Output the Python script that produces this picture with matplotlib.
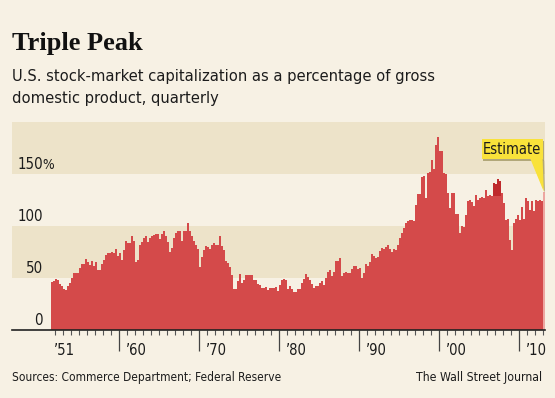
import numpy as np
import matplotlib
matplotlib.use("Agg")
import matplotlib.pyplot as plt
from matplotlib import font_manager
from matplotlib.font_manager import FontProperties
from matplotlib.patches import Rectangle, Polygon

# market cap as % of GDP, quarterly, first bar 1951 Q3, last bar is the estimate
cap_pct = [
    46.5, 47, 49, 48, 44, 42, 39, 38, 42, 45.5, 50, 55, 55, 55, 60, 63.5,
    63.5, 68, 65, 62.5, 66, 62, 65.5, 58, 58, 63, 67, 72, 74, 74, 75, 74,
    77.5, 71, 74, 67, 77, 86, 84, 84, 90, 85.5, 65, 67, 81.5, 84.5, 88, 90,
    85, 88, 90, 91, 92, 92, 87.5, 92, 95, 90, 85, 75, 79, 88,
    93.5, 95, 95, 85.5, 95, 95, 103, 95, 90, 86, 82, 77.5, 61, 70, 77, 81,
    80, 77.5, 82, 84, 82, 82, 90, 81, 77, 66, 64, 61, 52.5, 39, 39, 47.5,
    54, 45.5, 48, 53, 53, 53, 52.5, 48.5, 48, 44, 43, 40, 40, 41.5, 38.5, 40,
    40.5, 40.5, 41.5, 37.5, 43, 48, 49.5, 48, 39, 42, 39, 37, 37, 39,
    39, 45.5, 49, 53.5, 51, 48, 44, 40.5, 42.5, 42.5, 45, 47, 43.5, 50, 55.5, 57.5,
    52, 56, 66, 66, 69, 52, 54.5, 56, 54.5, 55, 59, 62, 62, 59, 60, 50,
    55, 63.5, 62, 65, 73, 71, 69, 70, 76, 79, 78, 80, 81.5, 77.5, 75, 77.5,
    77, 81.5, 88, 93.5, 98.5, 102.5, 104.5, 106, 106, 105, 120, 131, 131, 147,
    148, 126.5, 150.5, 152, 163.5, 154.5, 178, 186, 172, 172, 151, 150, 132, 117, 132, 132,
    112, 112, 93.5, 100, 99.5, 110.5, 124, 125, 123.5, 119, 130, 125, 127, 128, 126.5, 134.5,
    129, 130, 129, 141, 140.5, 145, 143.5, 131.5, 122, 106, 107, 86.5, 77, 102.5, 106.5, 110.5,
    106, 118, 107, 126.5, 124, 115.5, 124, 114, 125, 124, 125, 124, 133,
]
first_quarter = 1951.5
y_ticks = [0, 50, 100, 150]
decades = [1951, 1960, 1970, 1980, 1990, 2000, 2010]
decade_labels = ["\u201951", "\u201960", "\u201970", "\u201980", "\u201990", "\u201900", "\u201910"]

# condensed sans if there is one, else Roboto
cond = FontProperties(family="DejaVu Sans", stretch="condensed")
if "Condensed" in font_manager.findfont(cond):
    SANS = dict(family="DejaVu Sans", stretch="condensed")
    k = 1.0
else:
    SANS = dict(family="Roboto")
    k = 0.93
serif = "Liberation Serif"

BG = "#f7f1e4"
BAND = "#ede3c9"
RED = "#d44a4a"
INK = "#1c1c1c"

fig = plt.figure(figsize=(5.55, 3.98), dpi=100, facecolor=BG)
W, H = 555, 398
ax = fig.add_axes([12 / W, 68 / H, 533 / W, 208 / H], facecolor=BG)
ax.set_xlim(1946.625, 2013.25)
ax.set_ylim(0, 200)

ax.axhspan(50, 100, color=BAND, lw=0, zorder=0)
ax.axhspan(150, 200, color=BAND, lw=0, zorder=0)

vals = np.array(cap_pct)
q = first_quarter + 0.25 * np.arange(len(vals))
colors = [RED] * len(vals)
colors[-1] = "#eda6a0"
ax.bar(q, vals, width=0.19, align="edge", color=colors, lw=0, zorder=2)

# darker tops of the 2007 peak
pk = slice(221, 225)
ax.bar(q[pk], vals[pk] - 129, bottom=129, width=0.19, align="edge",
       color="#bf2a2c", lw=0, zorder=3)

# y labels
for v in y_ticks:
    ax.text(1950.5, v + 4.8, str(v), ha="right", va="baseline", fontsize=10.8 * k,
            color=INK, zorder=4, **SANS)
ax.text(1950.45, 150 + 4.8, "%", ha="left", va="baseline", fontsize=9.8 * k,
        color=INK, zorder=4, **SANS)

# x axis
for s in ["top", "right", "left"]:
    ax.spines[s].set_visible(False)
ax.spines["bottom"].set_linewidth(1.2)
ax.spines["bottom"].set_color("#222222")
ax.set_yticks([])
major = [d for d in decades if d % 10 == 0]
ax.set_xticks(major)
ax.set_xticklabels([])
ax.set_xticks([y for y in range(1952, 2014) if y % 10 != 0], minor=True)
ax.tick_params(axis="x", which="major", length=15, width=0.9, color="#444444", direction="out")
ax.tick_params(axis="x", which="minor", length=3.6, width=0.8, color="#555555", direction="out")
for d, lab in zip(decades, decade_labels):
    ax.text(d + 0.9, -24, lab, ha="left", va="baseline", fontsize=10.6 * k,
            color=INK, clip_on=False, **SANS)

# estimate callout
tip_x = q[-1] + 0.1
tip_y = vals[-1]
bx0, bx1, by0, by1 = 2005.35, 2012.95, 164.4, 183.7
ax.add_patch(Rectangle((bx0 + 0.2, by0 - 1.6), bx1 - bx0, by1 - by0, color="#8a7f45",
                       alpha=0.6, lw=0, zorder=5, clip_on=False))
ax.add_patch(Polygon([(2011.4 + 0.2, by0 - 1.6), (bx1 + 0.2, by0 - 1.6), (tip_x + 0.15, tip_y - 1)],
                     color="#8a7f45", alpha=0.6, lw=0, zorder=5, clip_on=False))
ax.add_patch(Rectangle((bx0, by0), bx1 - bx0, by1 - by0, color="#f9e23a", lw=0,
                       zorder=6, clip_on=False))
ax.add_patch(Polygon([(2011.4, by0 + 0.5), (bx1, by0 + 0.5), (tip_x, tip_y)],
                     color="#f9e23a", lw=0, zorder=6, clip_on=False))
ax.text((bx0 + bx1) / 2, (by0 + by1) / 2 - 0.5, "Estimate", ha="center", va="center",
        fontsize=10.5 * k, color=INK, zorder=7, **SANS)

# titles
fig.text(12 / W, 1 - 49.6 / H, "Triple Peak", fontsize=19, fontweight="bold",
         family=serif, color="#111111", va="baseline", ha="left")
fig.text(12 / W, 1 - 80.7 / H, "U.S. stock-market capitalization as a percentage of gross",
         fontsize=11.8 * k, color=INK, va="baseline", ha="left", **SANS)
fig.text(12 / W, 1 - 102.6 / H, "domestic product, quarterly",
         fontsize=11.8 * k, color=INK, va="baseline", ha="left", **SANS)
fig.text(12 / W, 1 - 381 / H, "Sources: Commerce Department; Federal Reserve",
         fontsize=8.6 * k, color=INK, va="baseline", ha="left", **SANS)
fig.text(542 / W, 1 - 381 / H, "The Wall Street Journal",
         fontsize=8.8 * k, color=INK, va="baseline", ha="right", **SANS)

fig.savefig("out.png", dpi=100, facecolor=BG)
